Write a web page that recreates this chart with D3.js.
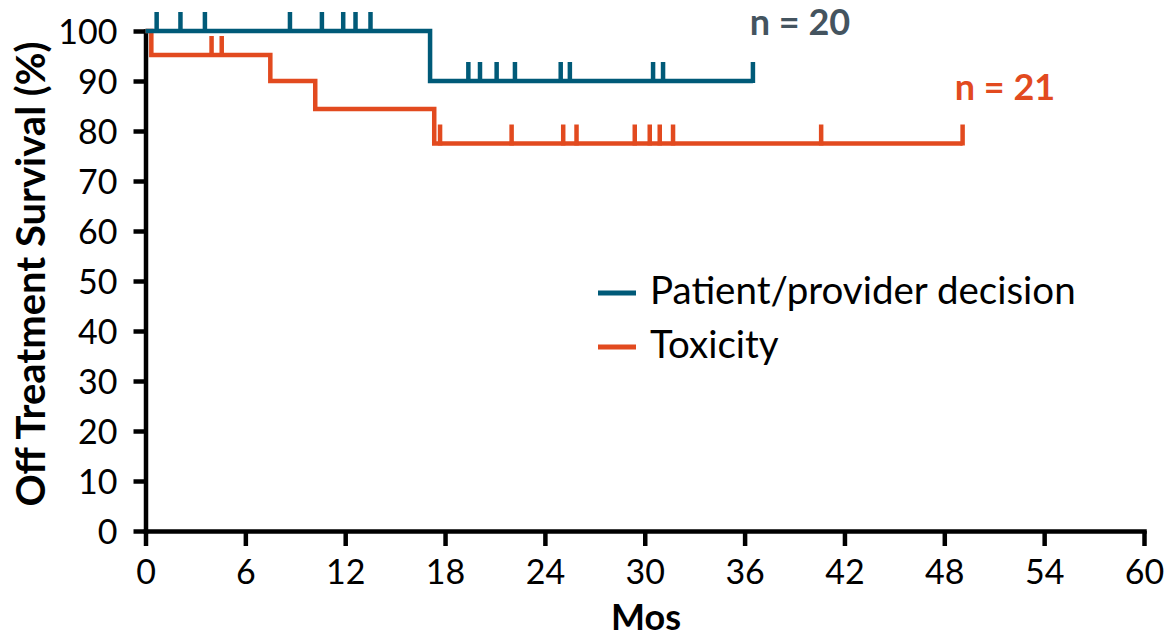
<!DOCTYPE html>
<html><head><meta charset="utf-8">
<script src="https://cdn.jsdelivr.net/npm/d3@7"></script>
<style>
html,body{margin:0;padding:0;background:#fff;}
text{font-family:Lato,"Open Sans",sans-serif;}
</style></head>
<body>
<svg id="chart" width="1168" height="638"></svg>
<script>
// ---- data ----
const xTicks = [0, 6, 12, 18, 24, 30, 36, 42, 48, 54, 60];
const yTicks = [0, 10, 20, 30, 40, 50, 60, 70, 80, 90, 100];

const seriesNames = ["Patient/provider decision", "Toxicity"];
const seriesColors = ["#005a78", "#e24a1f"];
const seriesN = ["n = 20", "n = 21"];

// step changes (time in months, survival %)
const decisionTimes = [0, 17.1];
const decisionSurv = [100, 90];
const decisionEnd = 36.5;
const decisionCensor = [0.67, 2.1, 3.57, 8.68, 10.6, 11.88, 12.62, 13.52, 19.4, 20.1, 21.1, 22.2, 24.95, 25.5, 30.5, 31.1, 36.5];

const toxTimes = [0, 0.35, 7.5, 10.2, 17.35];
const toxSurv = [100, 95.2, 90, 84.4, 77.5];
const toxEnd = 49.1;
const toxCensor = [3.97, 4.58, 17.7, 22.0, 25.1, 25.9, 29.4, 30.3, 30.9, 31.7, 40.6, 49.1];

// ---- chart ----
const svg = d3.select("#chart");
const x = d3.scaleLinear().domain([0, 60]).range([145.5, 1144]);
const y = d3.scaleLinear().domain([0, 100]).range([531, 31]);

const series = [
  {times: decisionTimes, surv: decisionSurv, end: decisionEnd, censor: decisionCensor, color: seriesColors[0]},
  {times: toxTimes, surv: toxSurv, end: toxEnd, censor: toxCensor, color: seriesColors[1]}
];

function survAt(s, t) {
  let v = s.surv[0];
  for (let i = 0; i < s.times.length; i++) if (s.times[i] <= t) v = s.surv[i];
  return v;
}

// axes
const yAxis = d3.axisLeft(y).tickValues(yTicks).tickSize(12).tickSizeOuter(0).tickPadding(16);
const xAxis = d3.axisBottom(x).tickValues(xTicks).tickSize(15).tickSizeOuter(0).tickPadding(14);

const gy = svg.append("g").attr("transform", "translate(145.5,0)").call(yAxis);
const gx = svg.append("g").attr("transform", "translate(0,531)").call(xAxis);
[gx, gy].forEach(g => {
  g.select(".domain").attr("stroke", "#000").attr("stroke-width", 4.5).attr("stroke-linecap", "square");
  g.selectAll(".tick line").attr("stroke", "#000").attr("stroke-width", 4.5);
  g.selectAll(".tick text").attr("fill", "#000").style("font-size", "34px").style("font-family", "Lato, 'Open Sans', sans-serif");
});
gy.selectAll(".tick text").attr("dy", "0.36em");

// axis titles
svg.append("text").attr("transform", "translate(45,274) rotate(-90)")
  .attr("text-anchor", "middle").attr("font-weight", "bold").style("font-size", "40px")
  .text("Off Treatment Survival (%)");
svg.append("text").attr("x", 646).attr("y", 630)
  .attr("text-anchor", "middle").attr("font-weight", "bold").style("font-size", "36px")
  .text("Mos");

// curves: orange first, blue on top
const line = d3.line().x(d => x(d[0])).y(d => y(d[1])).curve(d3.curveStepAfter);
[series[1], series[0]].forEach(s => {
  const pts = s.times.map((t, i) => [t, s.surv[i]]);
  pts.push([s.end, s.surv[s.surv.length - 1]]);
  svg.append("path").datum(pts).attr("d", line)
    .attr("fill", "none").attr("stroke", s.color).attr("stroke-width", 4.5);
  svg.append("g").selectAll("line").data(s.censor).join("line")
    .attr("x1", d => x(d)).attr("x2", d => x(d))
    .attr("y1", d => y(survAt(s, d)) + 2).attr("y2", d => y(survAt(s, d)) - 19)
    .attr("stroke", s.color).attr("stroke-width", 4.5);
});

// n labels
svg.append("text").attr("x", 800).attr("y", 35).attr("text-anchor", "middle")
  .attr("font-weight", "bold").style("font-size", "36px").attr("fill", "#44545f").text(seriesN[0]);
svg.append("text").attr("x", 1005).attr("y", 100).attr("text-anchor", "middle")
  .attr("font-weight", "bold").style("font-size", "36px").attr("fill", seriesColors[1]).text(seriesN[1]);

// legend
const legend = svg.append("g");
seriesNames.forEach((name, i) => {
  const ly = 293 + i * 54;
  legend.append("line").attr("x1", 598).attr("x2", 636).attr("y1", ly).attr("y2", ly)
    .attr("stroke", seriesColors[i]).attr("stroke-width", 5);
  legend.append("text").attr("x", 650).attr("y", ly + 11).style("font-size", "38.5px").attr("fill", "#000").text(name);
});
</script>
</body></html>
